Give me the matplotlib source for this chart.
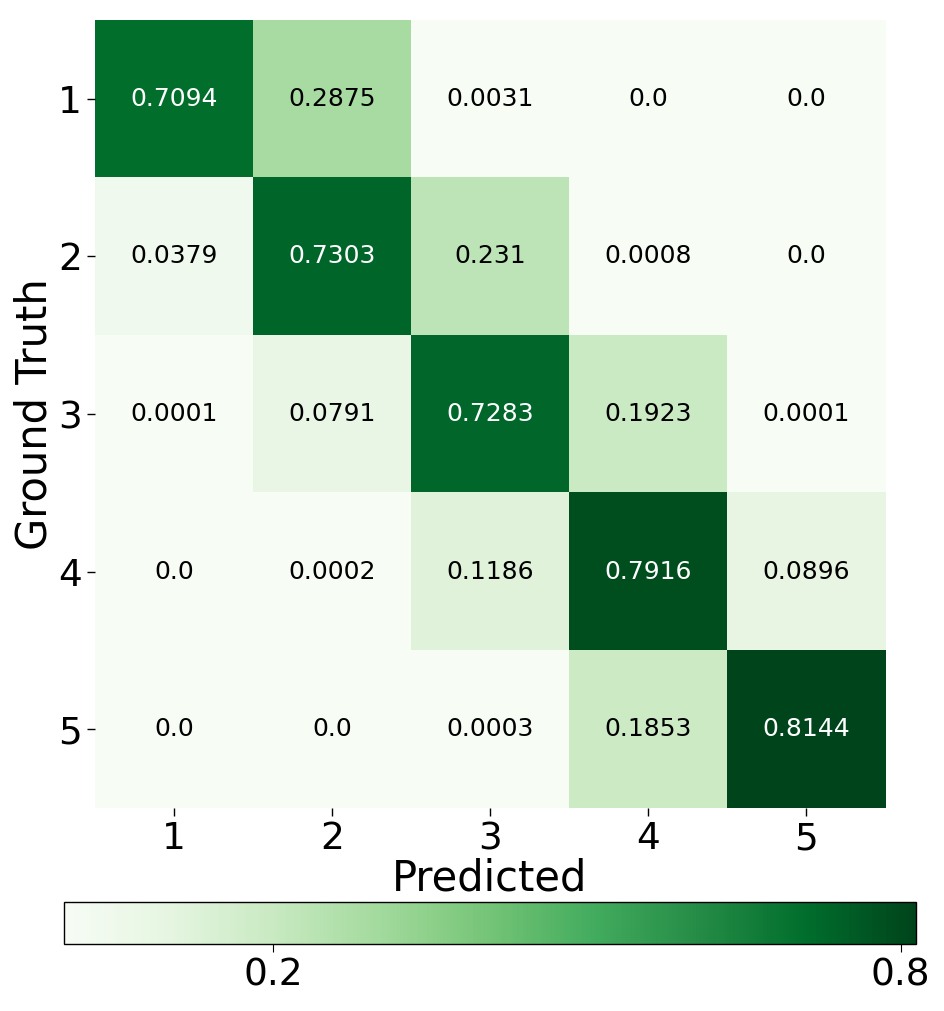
import matplotlib
matplotlib.use('Agg')
import matplotlib.pyplot as plt
import numpy as np

# confusion matrix values (rows: ground truth, cols: predicted)
labels = ['1', '2', '3', '4', '5']
row1 = [0.7094, 0.2875, 0.0031, 0.0, 0.0]
row2 = [0.0379, 0.7303, 0.231, 0.0008, 0.0]
row3 = [0.0001, 0.0791, 0.7283, 0.1923, 0.0001]
row4 = [0.0, 0.0002, 0.1186, 0.7916, 0.0896]
row5 = [0.0, 0.0, 0.0003, 0.1853, 0.8144]
cbar_ticks = [0.2, 0.8]


def main():
    cm = np.array([row1, row2, row3, row4, row5])
    vmin, vmax = 0.0, cm.max()

    fig = plt.figure(figsize=(9.44, 10.11), dpi=100)
    ax = fig.add_axes([0.1006, 0.2008, 0.8369, 0.7794])
    cax = fig.add_axes([0.0678, 0.066, 0.9022, 0.042])

    im = ax.imshow(cm, cmap='Greens', vmin=vmin, vmax=vmax, aspect='auto',
                   interpolation='nearest')

    for i in range(cm.shape[0]):
        for j in range(cm.shape[1]):
            v = cm[i, j]
            color = 'white' if v > 0.6 * vmax else 'black'
            ax.text(j, i, str(v), ha='center', va='center', fontsize=18,
                    color=color)

    ax.set_xticks(range(len(labels)))
    ax.set_yticks(range(len(labels)))
    ax.set_xticklabels(labels, fontsize=27)
    ax.set_yticklabels(labels, fontsize=27)
    ax.tick_params(length=6, width=1)
    for s in ax.spines.values():
        s.set_visible(False)
    ax.set_xlabel('Predicted', fontsize=30, labelpad=0)
    ax.set_ylabel('Ground Truth', fontsize=30, labelpad=2)

    cb = fig.colorbar(im, cax=cax, orientation='horizontal', ticks=cbar_ticks)
    cb.ax.tick_params(labelsize=27, length=6)
    cb.outline.set_linewidth(1)

    fig.savefig('out.png', dpi=100)
    plt.close(fig)


if __name__ == '__main__':
    main()
